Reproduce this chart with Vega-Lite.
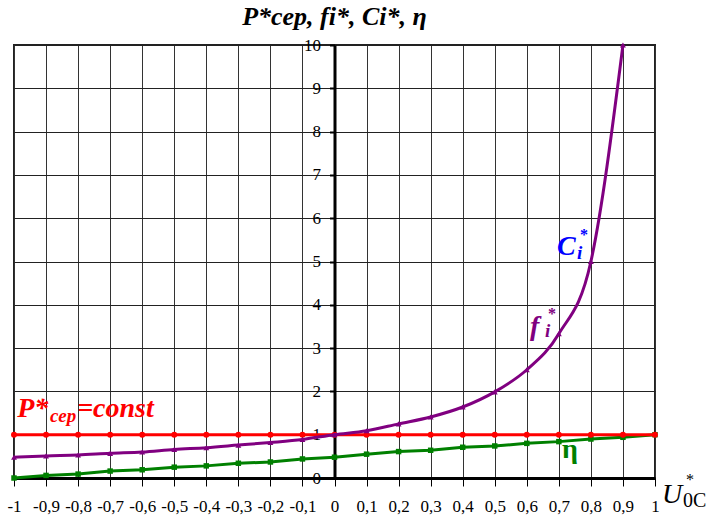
{
  "$schema": "https://vega.github.io/schema/vega-lite/v6.json",
  "width": 641,
  "height": 433,
  "autosize": {"type": "none"},
  "padding": {"left": 14, "top": 45, "right": 51, "bottom": 48},
  "background": "white",
  "title": {
    "text": "P*cep, fi*, Ci*, η",
    "font": "'Liberation Serif', 'Times New Roman', 'DejaVu Serif', serif",
    "fontSize": 26,
    "fontStyle": "italic",
    "fontWeight": "bold",
    "color": "black",
    "anchor": "middle",
    "offset": 6
  },
  "config": {
    "view": {"stroke": "#222", "strokeWidth": 2},
    "axis": {"labelFont": "'Liberation Serif', 'Times New Roman', 'DejaVu Serif', serif", "labelColor": "black", "labelFontSize": 17}
  },
  "datasets": {
    "curves": [
      {"u": -1, "v": 1, "s": "P"}, {"u": -0.9, "v": 1, "s": "P"}, {"u": -0.8, "v": 1, "s": "P"}, {"u": -0.7, "v": 1, "s": "P"}, {"u": -0.6, "v": 1, "s": "P"}, {"u": -0.5, "v": 1, "s": "P"}, {"u": -0.4, "v": 1, "s": "P"}, {"u": -0.3, "v": 1, "s": "P"}, {"u": -0.2, "v": 1, "s": "P"}, {"u": -0.1, "v": 1, "s": "P"}, {"u": 0, "v": 1, "s": "P"}, {"u": 0.1, "v": 1, "s": "P"}, {"u": 0.2, "v": 1, "s": "P"}, {"u": 0.3, "v": 1, "s": "P"}, {"u": 0.4, "v": 1, "s": "P"}, {"u": 0.5, "v": 1, "s": "P"}, {"u": 0.6, "v": 1, "s": "P"}, {"u": 0.7, "v": 1, "s": "P"}, {"u": 0.8, "v": 1, "s": "P"}, {"u": 0.9, "v": 1, "s": "P"}, {"u": 1, "v": 1, "s": "P"},
      {"u": -1, "v": 0.48, "s": "f"}, {"u": -0.9, "v": 0.51, "s": "f"}, {"u": -0.8, "v": 0.53, "s": "f"}, {"u": -0.7, "v": 0.57, "s": "f"}, {"u": -0.6, "v": 0.6, "s": "f"}, {"u": -0.5, "v": 0.66, "s": "f"}, {"u": -0.4, "v": 0.7, "s": "f"}, {"u": -0.3, "v": 0.76, "s": "f"}, {"u": -0.2, "v": 0.82, "s": "f"}, {"u": -0.1, "v": 0.89, "s": "f"}, {"u": 0, "v": 1, "s": "f"}, {"u": 0.1, "v": 1.09, "s": "f"}, {"u": 0.2, "v": 1.25, "s": "f"}, {"u": 0.3, "v": 1.41, "s": "f"}, {"u": 0.4, "v": 1.64, "s": "f"}, {"u": 0.5, "v": 1.99, "s": "f"}, {"u": 0.6, "v": 2.5, "s": "f"}, {"u": 0.7, "v": 3.33, "s": "f"}, {"u": 0.8, "v": 5, "s": "f"}, {"u": 0.9, "v": 10, "s": "f"},
      {"u": -1, "v": 0, "s": "eta"}, {"u": -0.9, "v": 0.06, "s": "eta"}, {"u": -0.8, "v": 0.09, "s": "eta"}, {"u": -0.7, "v": 0.16, "s": "eta"}, {"u": -0.6, "v": 0.19, "s": "eta"}, {"u": -0.5, "v": 0.25, "s": "eta"}, {"u": -0.4, "v": 0.28, "s": "eta"}, {"u": -0.3, "v": 0.34, "s": "eta"}, {"u": -0.2, "v": 0.37, "s": "eta"}, {"u": -0.1, "v": 0.44, "s": "eta"}, {"u": 0, "v": 0.48, "s": "eta"}, {"u": 0.1, "v": 0.55, "s": "eta"}, {"u": 0.2, "v": 0.61, "s": "eta"}, {"u": 0.3, "v": 0.64, "s": "eta"}, {"u": 0.4, "v": 0.71, "s": "eta"}, {"u": 0.5, "v": 0.74, "s": "eta"}, {"u": 0.6, "v": 0.8, "s": "eta"}, {"u": 0.7, "v": 0.84, "s": "eta"}, {"u": 0.8, "v": 0.9, "s": "eta"}, {"u": 0.9, "v": 0.94, "s": "eta"}, {"u": 1, "v": 1, "s": "eta"}
    ],
    "labelsBig": [
      {"x": -0.99, "y": 1.41, "t": "P*", "s": "P"},
      {"x": -0.803, "y": 1.41, "t": "=const", "s": "P"},
      {"x": 0.694, "y": 5.15, "t": "C", "s": "C"},
      {"x": 0.61, "y": 3.3, "t": "f", "s": "f"}
    ],
    "labelsSub": [
      {"x": -0.888, "y": 1.29, "t": "cep", "s": "P"},
      {"x": 0.757, "y": 5.06, "t": "i", "s": "C"},
      {"x": 0.657, "y": 3.26, "t": "i", "s": "f"}
    ],
    "labelsSup": [
      {"x": 0.766, "y": 5.49, "t": "*", "s": "C"},
      {"x": 0.666, "y": 3.68, "t": "*", "s": "f"}
    ],
    "labelsEta": [
      {"x": 0.71, "y": 0.46, "t": "η", "s": "eta"}
    ],
    "axisU": [{"x": 1.022, "y": -0.58, "t": "U"}],
    "axisStar": [{"x": 1.097, "y": -0.16, "t": "*"}],
    "axisSub": [{"x": 1.087, "y": -0.67, "t": "0C"}]
  },
  "encoding": {
    "x": {
      "field": "u", "type": "quantitative",
      "scale": {"domain": [-1, 1], "nice": false, "zero": false},
      "axis": {
        "orient": "bottom",
        "values": [-1, -0.9, -0.8, -0.7, -0.6, -0.5, -0.4, -0.3, -0.2, -0.1, 0, 0.1, 0.2, 0.3, 0.4, 0.5, 0.6, 0.7, 0.8, 0.9, 1],
        "labelExpr": "replace(replace(format(datum.value, '.1~f'), '.', ','), '−', '-')",
        "grid": true, "gridColor": "#333", "gridWidth": 1, "gridOpacity": 1,
        "domain": true, "domainColor": "black", "domainWidth": 3,
        "ticks": true, "tickColor": "black", "tickSize": 8, "tickWidth": 1,
        "labelPadding": 12, "labelFlush": false, "labelOverlap": false,
        "title": null
      }
    },
    "y": {
      "field": "v", "type": "quantitative",
      "scale": {"domain": [0, 10], "nice": false},
      "axis": {
        "orient": "left",
        "offset": -320.5,
        "values": [0, 1, 2, 3, 4, 5, 6, 7, 8, 9, 10],
        "grid": true, "gridColor": "#222", "gridWidth": 1, "gridOpacity": 1,
        "domain": true, "domainColor": "black", "domainWidth": 3,
        "ticks": true, "tickColor": "black", "tickSize": 5, "tickWidth": 2,
        "labelPadding": 9, "labelFlush": false, "labelOverlap": false,
        "title": null
      }
    }
  },
  "layer": [
    {
      "data": {"name": "curves"},
      "transform": [{"filter": "datum.s === 'eta'"}],
      "mark": {"type": "line", "strokeWidth": 3, "point": {"shape": "square", "size": 30, "filled": true}},
      "encoding": {"color": {"field": "s", "type": "nominal", "scale": {"domain": ["P", "f", "C", "eta"], "range": ["#ff0000", "#800080", "#0000ff", "#008000"]}, "legend": null}}
    },
    {
      "data": {"name": "curves"},
      "transform": [{"filter": "datum.s === 'P'"}],
      "mark": {"type": "line", "strokeWidth": 3, "point": {"shape": "circle", "size": 35, "filled": true}},
      "encoding": {"color": {"field": "s", "type": "nominal", "legend": null}}
    },
    {
      "data": {"name": "curves"},
      "transform": [{"filter": "datum.s === 'f'"}],
      "mark": {"type": "line", "strokeWidth": 3, "interpolate": "monotone", "point": {"shape": "triangle-up", "size": 35, "filled": true}},
      "encoding": {"color": {"field": "s", "type": "nominal", "legend": null}}
    },
    {
      "data": {"name": "labelsBig"},
      "mark": {"type": "text", "align": "left", "baseline": "alphabetic", "font": "'Liberation Serif', 'Times New Roman', 'DejaVu Serif', serif", "fontSize": 28, "fontStyle": "italic", "fontWeight": "bold"},
      "encoding": {
        "x": {"field": "x", "type": "quantitative"},
        "y": {"field": "y", "type": "quantitative"},
        "text": {"field": "t"},
        "color": {"field": "s", "type": "nominal", "legend": null}
      }
    },
    {
      "data": {"name": "labelsSub"},
      "mark": {"type": "text", "align": "left", "baseline": "alphabetic", "font": "'Liberation Serif', 'Times New Roman', 'DejaVu Serif', serif", "fontSize": 19, "fontStyle": "italic", "fontWeight": "bold"},
      "encoding": {
        "x": {"field": "x", "type": "quantitative"},
        "y": {"field": "y", "type": "quantitative"},
        "text": {"field": "t"},
        "color": {"field": "s", "type": "nominal", "legend": null}
      }
    },
    {
      "data": {"name": "labelsSup"},
      "mark": {"type": "text", "align": "left", "baseline": "alphabetic", "font": "'Liberation Serif', 'Times New Roman', 'DejaVu Serif', serif", "fontSize": 16, "fontWeight": "bold"},
      "encoding": {
        "x": {"field": "x", "type": "quantitative"},
        "y": {"field": "y", "type": "quantitative"},
        "text": {"field": "t"},
        "color": {"field": "s", "type": "nominal", "legend": null}
      }
    },
    {
      "data": {"name": "labelsEta"},
      "mark": {"type": "text", "align": "left", "baseline": "alphabetic", "font": "'Liberation Serif', 'Times New Roman', 'DejaVu Serif', serif", "fontSize": 28, "fontWeight": "bold"},
      "encoding": {
        "x": {"field": "x", "type": "quantitative"},
        "y": {"field": "y", "type": "quantitative"},
        "text": {"field": "t"},
        "color": {"field": "s", "type": "nominal", "legend": null}
      }
    },
    {
      "data": {"name": "axisU"},
      "mark": {"type": "text", "align": "left", "baseline": "alphabetic", "font": "'Liberation Serif', 'Times New Roman', 'DejaVu Serif', serif", "fontSize": 28, "fontStyle": "italic", "color": "black"},
      "encoding": {
        "x": {"field": "x", "type": "quantitative"},
        "y": {"field": "y", "type": "quantitative"},
        "text": {"field": "t"}
      }
    },
    {
      "data": {"name": "axisStar"},
      "mark": {"type": "text", "align": "left", "baseline": "alphabetic", "font": "'Liberation Serif', 'Times New Roman', 'DejaVu Serif', serif", "fontSize": 16, "color": "black"},
      "encoding": {
        "x": {"field": "x", "type": "quantitative"},
        "y": {"field": "y", "type": "quantitative"},
        "text": {"field": "t"}
      }
    },
    {
      "data": {"name": "axisSub"},
      "mark": {"type": "text", "align": "left", "baseline": "alphabetic", "font": "'Liberation Serif', 'Times New Roman', 'DejaVu Serif', serif", "fontSize": 20, "color": "black"},
      "encoding": {
        "x": {"field": "x", "type": "quantitative"},
        "y": {"field": "y", "type": "quantitative"},
        "text": {"field": "t"}
      }
    }
  ]
}
